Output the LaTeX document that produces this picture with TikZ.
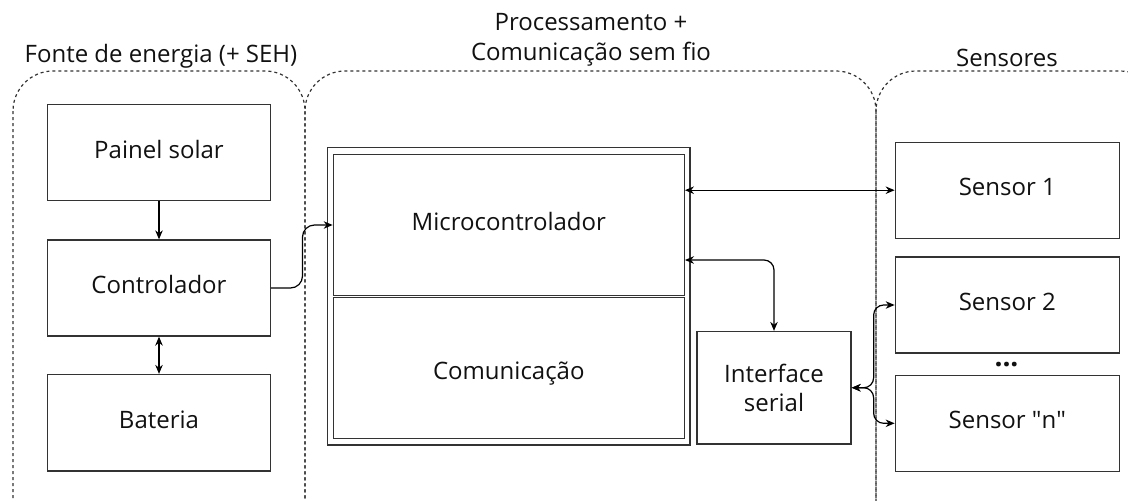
\documentclass[tikz,border=0pt]{standalone}
\usepackage{fontspec}
\setmainfont{Open Sans}
\usetikzlibrary{arrows.meta}
\definecolor{linegray}{HTML}{333333}
\definecolor{textdark}{HTML}{111111}
% straight double quote, kept out of the TeX quote ligatures
\newcommand\plainquote{\XeTeXglyph\XeTeXcharglyph"22\relax}
\begin{document}
\begin{tikzpicture}[x=1pt,y=-1pt,
  font=\fontsize{24}{29.5}\selectfont,
  every node/.style={text=textdark},
  block/.style={draw=linegray, line width=1.3pt, fill=white, inner sep=0pt,
                minimum width=223pt, minimum height=96pt},
  oneline/.style={text height=12pt, text depth=0.8pt},
  group/.style={draw=linegray, line width=1.2pt, dash pattern=on 3pt off 3pt,
                rounded corners=40pt},
  title/.style={anchor=base},
  tip/.style={line width=1.2pt, draw=black, -{Stealth[length=9pt,width=7.5pt]}},
  tips/.style={line width=1.2pt, draw=black,
               {Stealth[length=9pt,width=7.5pt]}-{Stealth[length=9pt,width=7.5pt]}}
]
\useasboundingbox (0,0) rectangle (1128,501);

% dotted group frames (cut off at the lower and right edges)
\begin{scope}
  \clip (0,0) rectangle (1128,501);
  \draw[group] (13,71) rectangle (305,560);
  \draw[group] (305,71) rectangle (876,560);
  \draw[group] (876,71) rectangle (1160,560);
\end{scope}

% group titles
\node[title] (tEnergia) at (161,62) {Fonte de energia (+ SEH)};
\node[align=center] (tProc) at (591,40) {Processamento +\\Comunicação sem fio};
\node[title] (tSens) at (1007,66) {Sensores};

% energy source column
\node[block, oneline] (painel) at (159,152.5) {Painel solar};
\node[block, oneline] (ctrl) at (159,288) {Controlador};
\node[block, oneline, minimum height=96.5pt] (bat) at (159,422.75) {Bateria};

% processing + radio block (double frame)
\node[draw=linegray, line width=1.3pt, inner sep=0pt,
      minimum width=362.7pt, minimum height=297.7pt] (mcu) at (508.7,296.2) {};
\node[block, oneline, minimum width=351pt, minimum height=141pt] (micro) at (508.8,225) {Microcontrolador};
\node[block, text height=25pt, text depth=1.2pt, minimum width=351pt, minimum height=141pt] (com) at (508.8,368) {Comunicação};
\node[block, minimum width=154pt, minimum height=112.5pt, align=center] (serial) at (774,387.75) {Interface\\serial};

% sensors
\node[block, oneline, minimum width=224pt] (s1) at (1007.3,190.2) {Sensor 1};
\node[block, oneline, minimum width=224pt] (s2) at (1007.3,305) {Sensor 2};
\node[block, oneline, minimum width=224pt] (sn) at (1007.3,423.3) {Sensor \plainquote n\plainquote};
\node[font=\fontsize{28}{28}\bfseries] (dots) at (1006.5,364.5) {...};

% connectors
\draw[tip] (painel) -- (ctrl);
\draw[tips] (ctrl) -- (bat);
\draw[tip, rounded corners=12pt] (ctrl.east) -- (302.5,288) -- (302.5,225) -- (micro.west);
\draw[tips] (micro.east |- s1.west) -- (s1.west);
\draw[tips, rounded corners=10pt] ([yshift=-35pt]micro.east) -| (serial.north);
\draw[tips, rounded corners=10pt] (serial.east) -- ++(22,0) |- (s2.west);
\draw[tips, rounded corners=10pt] (serial.east) -- ++(22,0) |- (sn.west);
\end{tikzpicture}
\end{document}
